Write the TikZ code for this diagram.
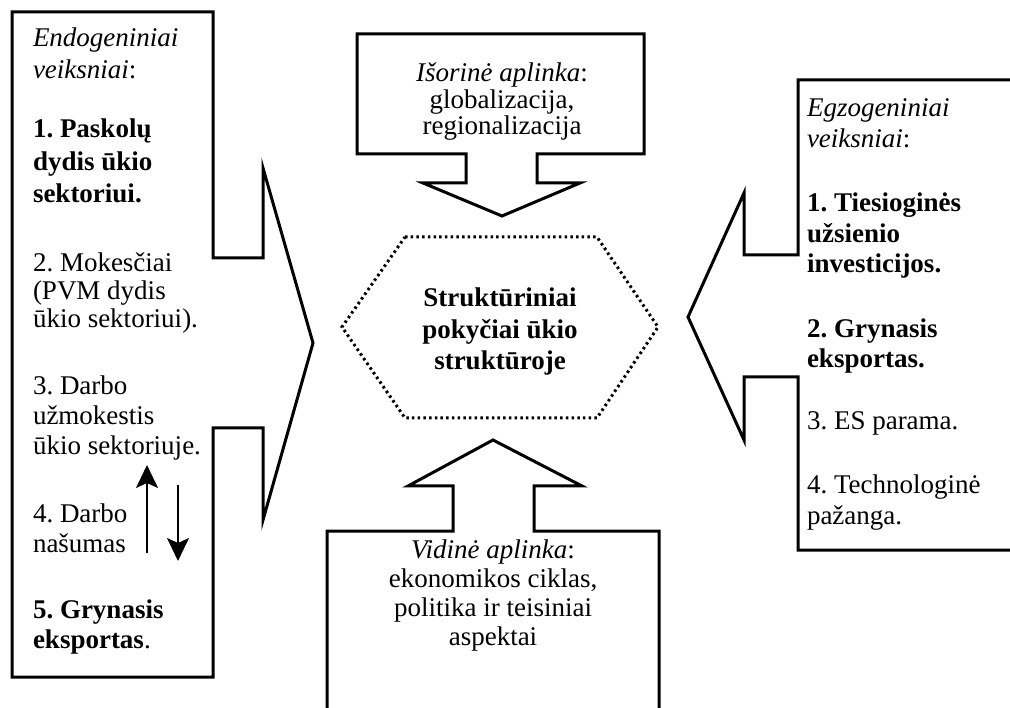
\documentclass[tikz,border=0pt]{standalone}
\usepackage{fontspec}
\setmainfont{Liberation Serif}
\usetikzlibrary{arrows.meta}
\frenchspacing
\begin{document}
\begin{tikzpicture}[x=1pt,y=-1pt,line join=miter,
  shapeline/.style={draw=black,line width=3pt},
  hexline/.style={draw=black,line width=3pt,dash pattern=on 2.5pt off 3.2pt},
  smallarrow/.style={draw=black,line width=1.8pt,-{Stealth[length=23pt,width=22pt,inset=5pt]}},
  txt/.style={inner sep=0pt,outer sep=0pt,font=\fontsize{27}{30}\selectfont},
  ltxt/.style={txt,anchor=base west,align=left},
  ctxt/.style={txt,anchor=base,align=center}]
\useasboundingbox (0,0) rectangle (1010,708);
\clip (0,0) rectangle (1010,708);
% left callout
\draw[shapeline] (12,12) -- (213,12) -- (213,258) -- (263,258) -- (263,168) -- (313,343)
  -- (263,520) -- (263,428) -- (213,428) -- (213,677) -- (12,677) -- cycle;
% top callout
\draw[shapeline] (357,34) -- (644,34) -- (644,154) -- (537,154) -- (537,183) -- (580,183)
  -- (502,216) -- (423,183) -- (466,183) -- (466,154) -- (357,154) -- cycle;
% center hexagon
\draw[hexline] (405,237) -- (597,237) -- (658,327) -- (597,418) -- (405,418) -- (342,327) -- cycle;
% bottom callout
\draw[shapeline] (327,730) -- (327,531) -- (453,531) -- (453,486) -- (408,486) -- (493,440)
  -- (582,486) -- (534,486) -- (534,531) -- (659,531) -- (659,730);
% right callout
\draw[shapeline] (1030,80) -- (798,80) -- (798,255) -- (744,255) -- (744,193) -- (688,317)
  -- (744,440) -- (744,377) -- (798,377) -- (798,550) -- (1030,550);

% left texts (anchor = baseline of last line)
\node[ltxt,font=\fontsize{27}{32}\selectfont] (l1) at (33,79) {\textit{Endogeniniai}\\\textit{veiksniai}:};
\node[ltxt,font=\fontsize{27}{32.5}\selectfont\bfseries] (l2) at (33,203) {1. Paskolų\\dydis ūkio\\sektoriui.};
\node[ltxt,font=\fontsize{27}{28}\selectfont] (l3) at (33,328) {2. Mokesčiai\\(PVM dydis\\ūkio sektoriui).};
\node[ltxt] (l4) at (33,455) {3. Darbo\\užmokestis\\ūkio sektoriuje.};
\node[ltxt] (l5) at (33,552) {4. Darbo\\našumas};
\node[ltxt] (l6) at (33,648) {\textbf{5. Grynasis}\\\textbf{eksportas}.};

% arrows between items 3 and 4
\coordinate (upS) at (147,553);
\coordinate (upE) at (147,465);
\coordinate (dnS) at (178,485);
\coordinate (dnE) at (178,561);
\draw[smallarrow] (upS) -- (upE);
\draw[smallarrow] (dnS) -- (dnE);

% top text
\node[ctxt,font=\fontsize{27}{26.5}\selectfont] (t1) at (502,135) {\textit{Išorinė aplinka}:\\globalizacija,\\regionalizacija};

% center text
\node[ctxt,font=\fontsize{27}{31.5}\selectfont\bfseries] (c1) at (500,370) {Struktūriniai\\pokyčiai ūkio\\struktūroje};

% bottom text
\node[ctxt,font=\fontsize{27}{29}\selectfont] (b1) at (493,645) {\textit{Vidinė aplinka}:\\ekonomikos ciklas,\\politika ir teisiniai\\aspektai};

% right texts
\node[ltxt,font=\fontsize{27}{31}\selectfont] (r1) at (807,148) {\textit{Egzogeniniai}\\\textit{veiksniai}:};
\node[ltxt,font=\fontsize{27}{30.5}\selectfont\bfseries] (r2) at (807,273) {1. Tiesioginės\\užsienio\\investicijos.};
\node[ltxt,font=\fontsize{27}{30}\selectfont\bfseries] (r3) at (807,368) {2. Grynasis\\eksportas.};
\node[ltxt] (r4) at (807,430) {3. ES parama.};
\node[ltxt,font=\fontsize{27}{32}\selectfont] (r5) at (807,525) {4. Technologinė\\pažanga.};
\end{tikzpicture}
\end{document}
